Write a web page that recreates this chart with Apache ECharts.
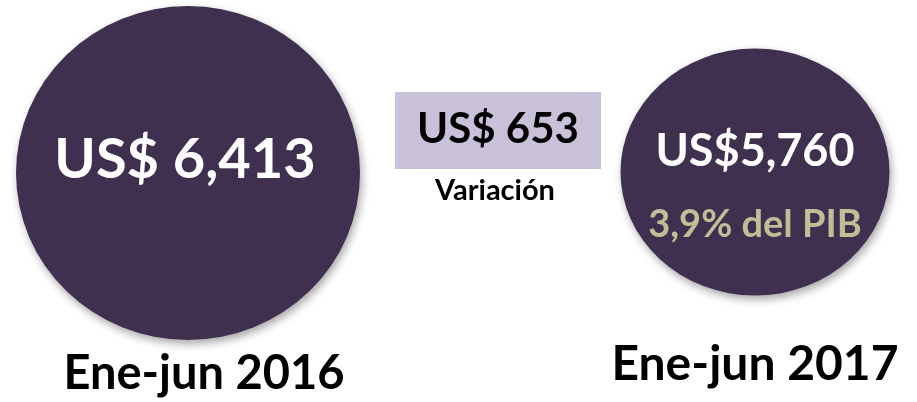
<!DOCTYPE html>
<html>
<head>
<meta charset="utf-8">
<title>Ene-jun 2016 vs 2017</title>
<script src="https://cdn.jsdelivr.net/npm/echarts@6.0.0/dist/echarts.min.js"></script>
<style>
  html, body { margin: 0; padding: 0; background: #fff; }
  #chart { width: 917px; height: 402px; }
</style>
</head>
<body>
<div id="chart"></div>
<script>
  // values
  var periods = ['Ene-jun 2016', 'Ene-jun 2017'];
  var amounts = [6413, 5760];
  var amountPrefix = ['US$ ', 'US$'];
  var variation = 653;
  var variationLabel = 'Variación';
  var pibShare = 3.9;

  var PURPLE = '#40304f';
  var LAVENDER = '#c9c0da';
  var KHAKI = '#c4bc97';
  var FONT = 'Lato';
  var ELLIPSE = 'path://M0,50 A50,50 0 1,1 100,50 A50,50 0 1,1 0,50 Z';

  function fmt(n) {
    return n.toLocaleString('en-US');
  }

  // layout, in pixels of the 917x402 canvas
  var circlePos = [[188, 173], [755, 172]];
  var circleSize = [[344, 334], [269, 247]];

  function txt(x, y, text, size, color) {
    return {
      value: [x, y],
      label: { show: true, position: 'inside', formatter: text, fontSize: size, color: color,
        fontFamily: FONT, fontWeight: 'bold' }
    };
  }

  var texts = [
    txt(185, 160, amountPrefix[0] + fmt(amounts[0]), 56, '#fff'),
    txt(755, 151, amountPrefix[1] + fmt(amounts[1]), 45, '#fff'),
    txt(755, 225, String(pibShare).replace('.', ',') + '% del PIB', 38, KHAKI),
    txt(498, 129, 'US$ ' + fmt(variation), 42, '#000'),
    txt(495, 191, variationLabel, 29, '#000'),
    txt(204, 374, periods[0], 47, '#000'),
    txt(755, 365, periods[1], 48, '#000')
  ];

  var chart = echarts.init(document.getElementById('chart'));
  chart.setOption({
    animation: false,
    grid: { left: 0, right: 0, top: 0, bottom: 0 },
    xAxis: { type: 'value', min: 0, max: 917, show: false },
    yAxis: { type: 'value', min: 0, max: 402, inverse: true, show: false },
    series: [
      {
        type: 'scatter',
        symbol: ELLIPSE,
        silent: true,
        itemStyle: { color: PURPLE, opacity: 1, shadowBlur: 8, shadowOffsetX: 2, shadowOffsetY: 4,
          shadowColor: 'rgba(0,0,0,0.35)' },
        data: amounts.map(function (v, i) {
          return { name: periods[i], value: [circlePos[i][0], circlePos[i][1], v], symbolSize: circleSize[i] };
        })
      },
      {
        type: 'scatter',
        symbol: 'rect',
        silent: true,
        symbolSize: [206, 77],
        itemStyle: { color: LAVENDER, opacity: 1 },
        data: [[498, 130.5, variation]]
      },
      {
        type: 'scatter',
        symbolSize: 0,
        silent: true,
        itemStyle: { opacity: 1 },
        data: texts
      }
    ]
  });
</script>
</body>
</html>
